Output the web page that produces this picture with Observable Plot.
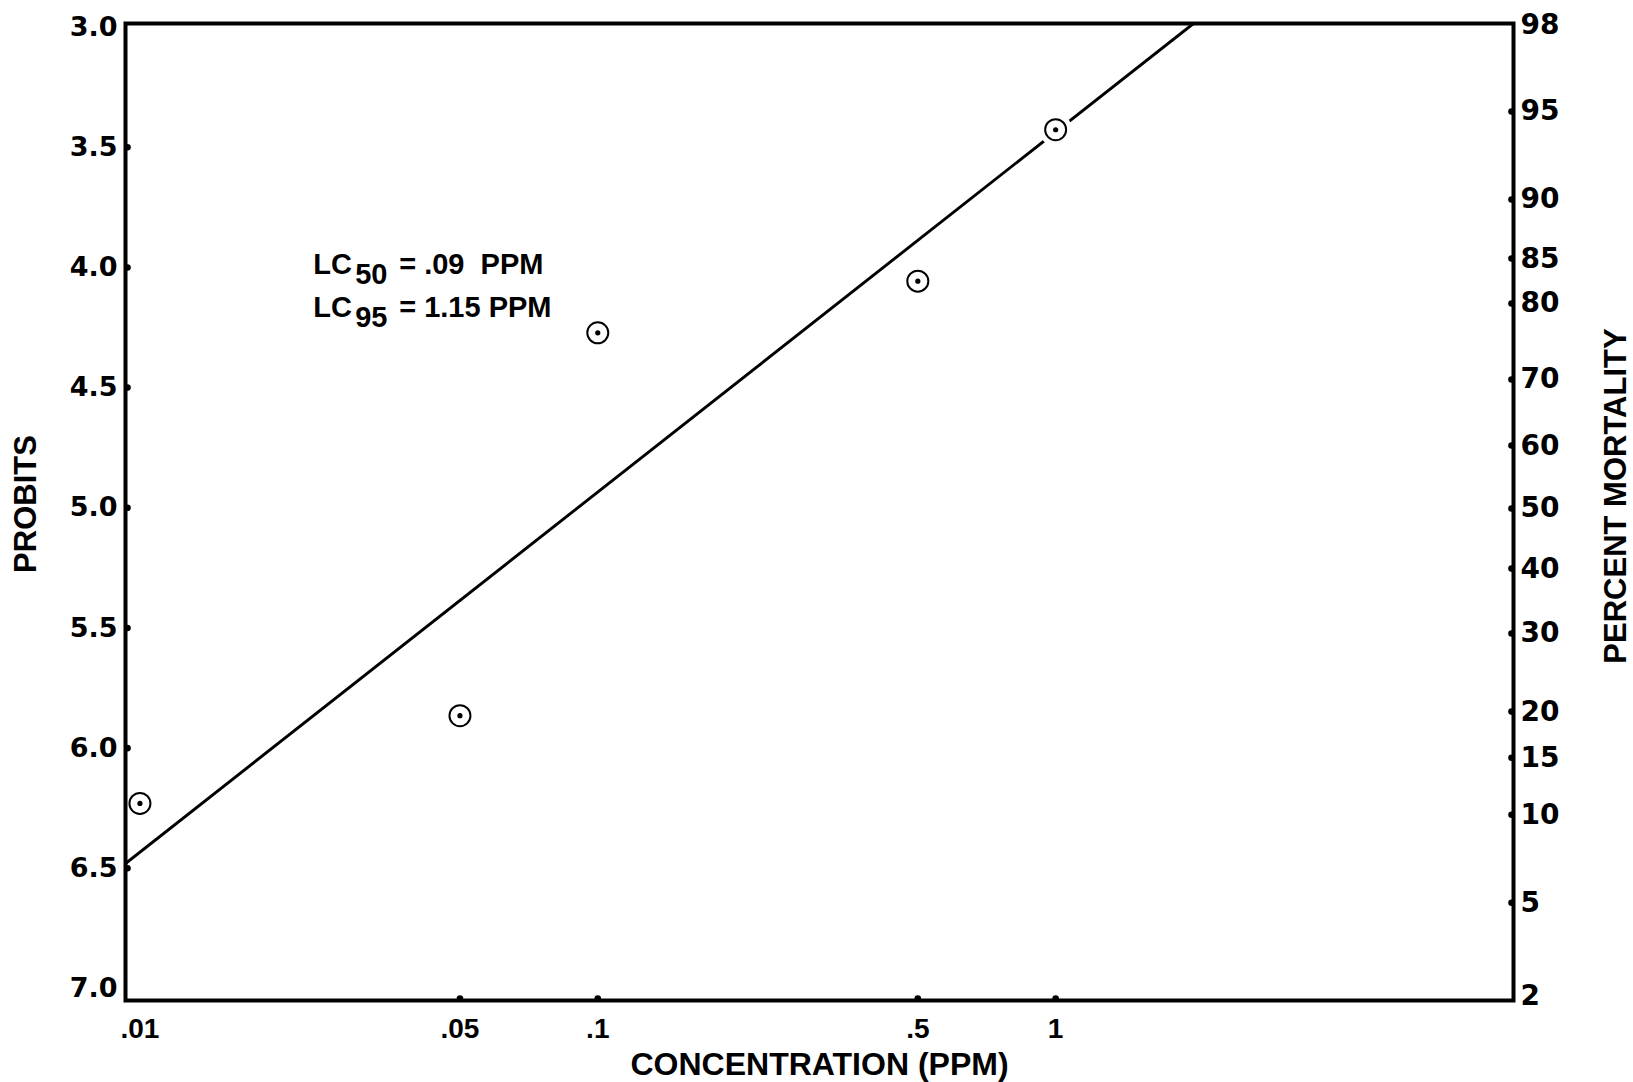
<!DOCTYPE html>
<html>
<head>
<meta charset="utf-8">
<script src="https://cdn.jsdelivr.net/npm/d3@7"></script>
<script src="https://cdn.jsdelivr.net/npm/@observablehq/plot@0.6"></script>
<style>
  html, body { margin: 0; padding: 0; background: #fff; }
</style>
</head>
<body>
<div id="chart"></div>
<script>
// ---- data ----
const concentration = [0.01, 0.05, 0.1, 0.5, 1];
const probit = [6.23, 5.865, 4.272, 4.057, 3.427];

const fitConc = [0.0093, 2.0];
const fitProbit = [6.48, 2.985];

const probitTicks = [3.0, 3.5, 4.0, 4.5, 5.0, 5.5, 6.0, 6.5, 7.0];

const concTicks = [0.01, 0.05, 0.1, 0.5, 1];
const concTickLabels = [".01", ".05", ".1", ".5", "1"];

const pctLabels = ["98", "95", "90", "85", "80", "70", "60", "50", "40", "30", "20", "15", "10", "5", "2"];
const pctProbit = [2.99, 3.351, 3.717, 3.963, 4.150, 4.466, 4.741, 5.003, 5.253, 5.523, 5.848, 6.040, 6.277, 6.643, 7.03];

const lcLabels = ["50", "95"];
const lcValues = ["= .09  PPM", "= 1.15 PPM"];
const lcAnchorConc = [0.0239, 0.0239];
const lcAnchorProbit = [3.99, 4.167];

// ---- tables built from the arrays ----
const points = concentration.map((c, i) => ({x: c, y: probit[i]}));
const fit = fitConc.map((c, i) => ({x: c, y: fitProbit[i]}));
const xTicks = concTicks.map((c, i) => ({x: c, label: concTickLabels[i]}));
const pct = pctLabels.map((l, i) => ({y: pctProbit[i], label: l}));
const pctInner = pct.filter(d => d.y > 3.0 && d.y < 7.0);
const yInner = probitTicks.filter(d => d > 3.0 && d < 7.0);
const ann = lcLabels.map((s, i) => ({x: lcAnchorConc[i], y: lcAnchorProbit[i], sub: s, rest: lcValues[i]}));

const SANS = "Liberation Sans, Arial, Helvetica, sans-serif";
const DEJAVU = "DejaVu Sans, sans-serif";

const chart = Plot.plot({
  width: 1633,
  height: 1082,
  marginLeft: 125,
  marginRight: 120,
  marginTop: 23,
  marginBottom: 82,
  style: {background: "white", color: "black", fontFamily: SANS},
  x: {type: "log", domain: [0.0093, 10], axis: null},
  y: {domain: [2.985, 7.05], reverse: true, axis: null},
  marks: [
    // fitted probit line
    Plot.line(fit, {x: "x", y: "y", stroke: "black", strokeWidth: 2.9, clip: true}),
    // white halo where the line is interrupted by the points
    Plot.dot(points, {x: "x", y: "y", r: 16.5, fill: "white", stroke: "none"}),
    Plot.dot(points, {x: "x", y: "y", r: 10.5, fill: "white", stroke: "black", strokeWidth: 2}),
    Plot.dot(points, {x: "x", y: "y", r: 2.6, fill: "black", stroke: "none"}),
    // frame
    Plot.frame({stroke: "black", strokeWidth: 4}),
    // tick bumps
    Plot.dot(yInner, {y: d => d, frameAnchor: "left", dx: 2, r: 3.3, fill: "black"}),
    Plot.dot(pctInner, {y: "y", frameAnchor: "right", dx: -2, r: 3.3, fill: "black"}),
    Plot.dot(xTicks.slice(1), {x: "x", frameAnchor: "bottom", dy: -2, r: 3.3, fill: "black"}),
    // left tick labels
    Plot.text(probitTicks, {y: d => d, text: d => d.toFixed(1), frameAnchor: "left", textAnchor: "end", lineAnchor: "middle", dx: -8,
      fontSize: 27, fontWeight: "bold", fontFamily: DEJAVU}),
    // right tick labels
    Plot.text(pct, {y: "y", text: "label", frameAnchor: "right", textAnchor: "start", lineAnchor: "middle", dx: 7,
      fontSize: 28, fontWeight: "bold", fontFamily: DEJAVU}),
    // bottom tick labels
    Plot.text(xTicks, {x: "x", text: "label", frameAnchor: "bottom", textAnchor: "middle", lineAnchor: "middle", dy: 29,
      fontSize: 28, fontWeight: "bold", fontFamily: SANS}),
    // axis titles
    Plot.text(["CONCENTRATION (PPM)"], {text: d => d, frameAnchor: "bottom", textAnchor: "middle", lineAnchor: "middle", dy: 64,
      fontSize: 32, fontWeight: "bold", fontFamily: SANS}),
    Plot.text(["PROBITS"], {text: d => d, frameAnchor: "left", textAnchor: "middle", lineAnchor: "middle", dx: -99, dy: -8, rotate: -90,
      fontSize: 31, fontWeight: "bold", fontFamily: SANS}),
    Plot.text(["PERCENT MORTALITY"], {text: d => d, frameAnchor: "right", textAnchor: "middle", lineAnchor: "middle", dx: 103, dy: -16, rotate: -90,
      fontSize: 31, fontWeight: "bold", fontFamily: SANS}),
    // LC annotations
    Plot.text(ann, {x: "x", y: "y", text: () => "LC", textAnchor: "start",
      fontSize: 29, fontWeight: "bold", fontFamily: SANS}),
    Plot.text(ann, {x: "x", y: "y", text: "sub", textAnchor: "start", dx: 42, dy: 10,
      fontSize: 29, fontWeight: "bold", fontFamily: SANS}),
    Plot.text(ann, {x: "x", y: "y", text: "rest", textAnchor: "start", dx: 86,
      fontSize: 29, fontWeight: "bold", fontFamily: SANS})
  ]
});
document.getElementById("chart").appendChild(chart);
</script>
</body>
</html>
